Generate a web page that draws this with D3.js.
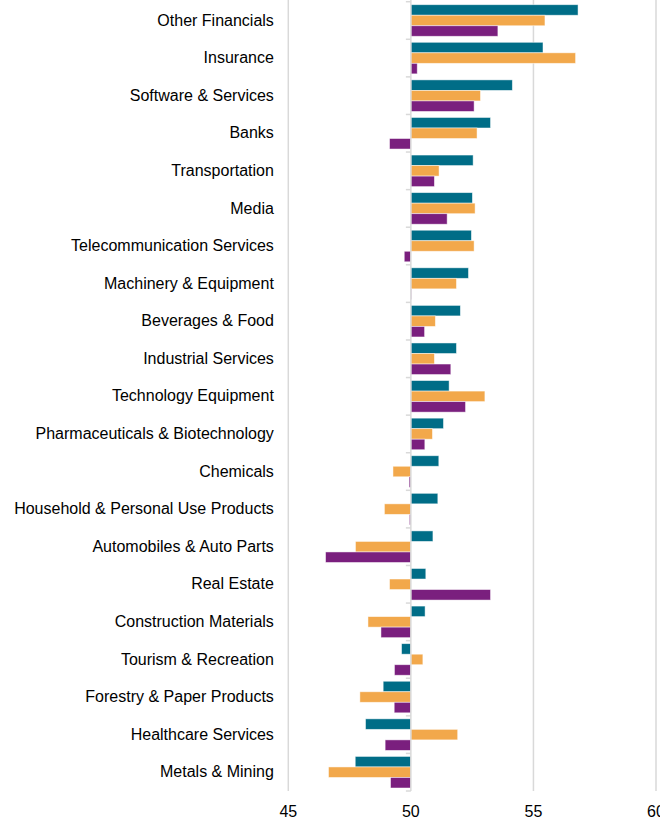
<!DOCTYPE html>
<html>
<head>
<meta charset="utf-8">
<script src="https://cdn.jsdelivr.net/npm/d3@7"></script>
<style>
  body { margin: 0; background: #fff; }
  text { font-family: "Liberation Sans", Arial, sans-serif; fill: #000; }
</style>
</head>
<body>
<div class="chart"></div>
<script>
var width = 660,
    height = 819;

var categories = ["Other Financials", "Insurance", "Software & Services", "Banks",
    "Transportation", "Media", "Telecommunication Services", "Machinery & Equipment",
    "Beverages & Food", "Industrial Services", "Technology Equipment",
    "Pharmaceuticals & Biotechnology", "Chemicals", "Household & Personal Use Products",
    "Automobiles & Auto Parts", "Real Estate", "Construction Materials",
    "Tourism & Recreation", "Forestry & Paper Products", "Healthcare Services",
    "Metals & Mining"];

var seriesA = [56.82, 55.39, 54.14, 53.25, 52.54, 52.51, 52.47, 52.35, 52.02, 51.86, 51.56,
    51.33, 51.14, 51.10, 50.90, 50.61, 50.58, 49.62, 48.87, 48.15, 47.73];
var seriesB = [55.47, 56.72, 52.84, 52.70, 51.15, 52.62, 52.58, 51.86, 51.00, 50.96, 53.02,
    50.88, 49.27, 48.92, 47.74, 49.13, 48.25, 50.49, 47.92, 51.91, 46.64];
var seriesC = [53.55, 50.26, 52.58, 49.13, 50.96, 51.48, 49.73, 50.02, 50.56, 51.63, 52.23,
    50.57, 49.93, 49.94, 46.52, 53.25, 48.78, 49.33, 49.32, 48.95, 49.17];

var xTicks = [45, 50, 55, 60];
var colors = ["#006d87", "#f2a84b", "#7a1f7e"];

var svg = d3.select(".chart").append("svg")
    .attr("width", width)
    .attr("height", height);

var x = d3.scaleLinear().domain([45, 60]).range([288.3, 656]);
var y = d3.scaleBand().domain(categories).range([1.7, 791]).paddingInner(0.16).paddingOuter(0.08);
var y1 = d3.scaleBand().domain([0, 1, 2]).range([0, y.bandwidth()]);

// gridlines
svg.append("g")
    .selectAll("line")
    .data(xTicks.filter(d => d !== 50))
    .join("line")
    .attr("x1", d => x(d))
    .attr("x2", d => x(d))
    .attr("y1", 0)
    .attr("y2", 791)
    .style("stroke", "#d9d9d9")
    .style("stroke-width", 1.5);

var rows = categories.map((c, i) => ({ cat: c, vals: [seriesA[i], seriesB[i], seriesC[i]] }));

var groups = svg.append("g")
    .selectAll("g")
    .data(rows)
    .join("g")
    .attr("transform", d => `translate(0, ${y(d.cat)})`);

groups.selectAll("rect")
    .data(d => d.vals)
    .join("rect")
    .attr("x", d => x(Math.min(d, 50)))
    .attr("y", (d, i) => y1(i))
    .attr("width", d => Math.abs(x(d) - x(50)))
    .attr("height", y1.bandwidth())
    .style("fill", (d, i) => colors[i])
    .style("stroke", "#fff")
    .style("stroke-opacity", 0.6)
    .style("stroke-width", 0.8);

// category axis at 50
var yAxis = svg.append("g")
    .attr("transform", `translate(${x(50)}, 0)`)
    .call(d3.axisLeft(y).tickSize(0).tickPadding(137));
yAxis.select(".domain").remove();
yAxis.selectAll("text").style("font-size", "16px");

svg.append("line")
    .attr("x1", x(50)).attr("x2", x(50))
    .attr("y1", 0).attr("y2", 791)
    .style("stroke", "#d9d9d9")
    .style("stroke-width", 1.5);

svg.append("g")
    .selectAll("line")
    .data(d3.range(categories.length + 1))
    .join("line")
    .attr("x1", x(50) - 5)
    .attr("x2", x(50))
    .attr("y1", i => 1.7 + i * y.step())
    .attr("y2", i => 1.7 + i * y.step())
    .style("stroke", "#d9d9d9")
    .style("stroke-width", 1.5);

// value axis labels
svg.append("g")
    .selectAll("text")
    .data(xTicks)
    .join("text")
    .attr("x", d => x(d))
    .attr("y", 817)
    .attr("text-anchor", "middle")
    .style("font-size", "16px")
    .text(d => d);
</script>
</body>
</html>
